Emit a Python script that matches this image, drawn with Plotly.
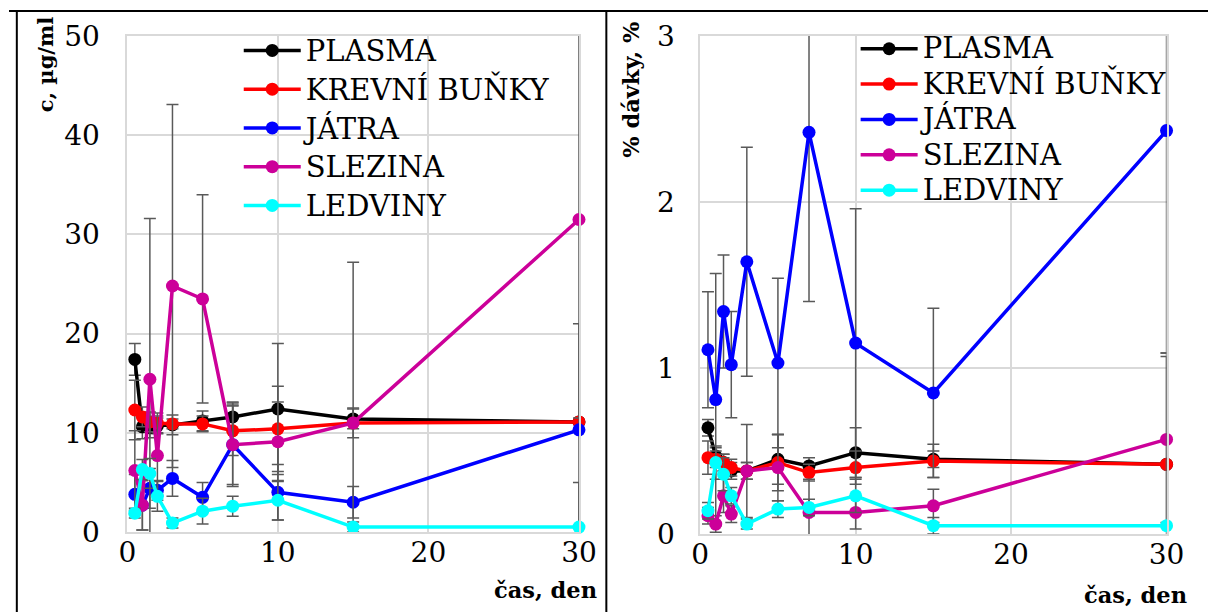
import plotly.graph_objects as go

# sampling times, days
days = [0.5, 1, 1.5, 2, 3, 5, 7, 10, 15, 30]

series_names = ["PLASMA", "KREVNÍ BUŇKY", "JÁTRA", "SLEZINA", "LEDVINY"]
series_colors = ["#000000", "#ff0000", "#0000ff", "#cc0099", "#00ffff"]

# concentration, µg/ml (mean and SD)
conc_plasma = [17.4, 10.6, 10.5, 10.7, 10.8, 11.2, 11.6, 12.4, 11.4, 11.1]
conc_plasma_sd = [1.6, 1.2, 1.0, 0.8, 1.0, 1.0, 1.5, 6.6, 1.0, 0.0]
conc_cells = [12.3, 11.6, 11.1, 11.0, 10.9, 10.9, 10.2, 10.4, 11.0, 11.1]
conc_cells_sd = [3.0, 1.0, 1.0, 1.0, 0.5, 0.8, 2.5, 4.3, 1.5, 0.0]
conc_liver = [3.8, 2.7, 4.4, 4.2, 5.4, 3.5, 8.8, 4.0, 3.0, 10.3]
conc_liver_sd = [2.0, 2.5, 2.0, 1.0, 1.8, 1.5, 4.0, 2.8, 1.6, 10.7]
conc_spleen = [6.2, 2.7, 15.4, 7.7, 24.8, 23.5, 8.8, 9.1, 11.0, 31.5]
conc_spleen_sd = [4.0, 2.5, 16.2, 4.0, 18.3, 10.5, 4.2, 4.0, 16.2, 20.0]
conc_kidney = [1.9, 6.3, 5.9, 3.6, 0.9, 2.1, 2.6, 3.2, 0.5, 0.5]
conc_kidney_sd = [0.5, 1.0, 1.5, 1.5, 0.5, 1.3, 1.0, 2.0, 0.5, 4.5]

# fraction of the dose, % (mean and SD)
dose_plasma = [0.64, 0.47, 0.43, 0.38, 0.38, 0.45, 0.41, 0.49, 0.45, 0.42]
dose_plasma_sd = [0.05, 0.05, 0.05, 0.05, 0.05, 0.15, 0.05, 0.15, 0.05, 0.0]
dose_cells = [0.46, 0.45, 0.43, 0.40, 0.38, 0.43, 0.37, 0.40, 0.44, 0.42]
dose_cells_sd = [0.10, 0.05, 0.05, 0.05, 0.05, 0.17, 0.05, 0.10, 0.10, 0.0]
dose_liver = [1.11, 0.81, 1.34, 1.02, 1.64, 1.03, 2.42, 1.15, 0.85, 2.43]
dose_liver_sd = [0.35, 0.76, 0.34, 0.32, 0.69, 0.51, 1.02, 0.81, 0.51, 1.34]
dose_spleen = [0.11, 0.06, 0.23, 0.12, 0.38, 0.40, 0.13, 0.13, 0.17, 0.57]
dose_spleen_sd = [0.05, 0.05, 0.10, 0.05, 0.28, 0.20, 0.20, 0.10, 0.10, 0.50]
dose_kidney = [0.14, 0.43, 0.36, 0.23, 0.06, 0.15, 0.16, 0.23, 0.05, 0.05]
dose_kidney_sd = [0.05, 0.10, 0.10, 0.05, 0.03, 0.05, 0.05, 0.10, 0.05, 1.04]

conc_means = [conc_plasma, conc_cells, conc_liver, conc_spleen, conc_kidney]
conc_sds = [conc_plasma_sd, conc_cells_sd, conc_liver_sd, conc_spleen_sd, conc_kidney_sd]
dose_means = [dose_plasma, dose_cells, dose_liver, dose_spleen, dose_kidney]
dose_sds = [dose_plasma_sd, dose_cells_sd, dose_liver_sd, dose_spleen_sd, dose_kidney_sd]

SERIF = "DejaVu Serif"
GRID = "#d9d9d9"
ERR = "#595959"

fig = go.Figure()


def add_panel(means, sds, xref, yref, legend_id):
    for name, color, ys, sd in zip(series_names, series_colors, means, sds):
        # error bars: clipped to the plotting area
        fig.add_trace(go.Scatter(
            x=days, y=ys, mode="markers", showlegend=False, hoverinfo="skip",
            xaxis=xref, yaxis=yref, cliponaxis=True,
            marker=dict(color="rgba(0,0,0,0)", size=1),
            error_y=dict(type="data", array=sd, visible=True,
                         color=ERR, thickness=1.5, width=6),
        ))
        # mean values: markers at the axis edge are drawn whole
        fig.add_trace(go.Scatter(
            x=days, y=ys, name=f'<span style="font-size:29px">{name}</span>',
            mode="lines+markers", cliponaxis=False,
            xaxis=xref, yaxis=yref, legend=legend_id,
            line=dict(color=color, width=3.5),
            marker=dict(color=color, size=13),
        ))


add_panel(conc_means, conc_sds, "x", "y", "legend")
add_panel(dose_means, dose_sds, "x2", "y2", "legend2")

axis_common = dict(
    showgrid=True, gridcolor=GRID, gridwidth=1.5,
    showline=True, linecolor=GRID, linewidth=1.5, mirror=True,
    zeroline=False, ticks="",
    tickfont=dict(family=SERIF, size=28, color="#000000"),
)

# dark right-hand border of each plotting area
edge = dict(showline=True, linecolor=ERR, linewidth=1.5, showgrid=False,
            zeroline=False, showticklabels=False, ticks="", side="right")

fig.update_layout(
    width=1208, height=612,
    margin=dict(l=0, r=0, t=36, b=78),
    paper_bgcolor="white", plot_bgcolor="white",
    showlegend=True,
    xaxis=dict(domain=[121 / 1208, 583 / 1208], range=[0, 30], dtick=10,
               anchor="y", ticklabelstandoff=-5, **axis_common),
    yaxis=dict(domain=[0.004, 1.0], range=[0, 50], dtick=10,
               anchor="x", ticklabelstandoff=20, **axis_common),
    xaxis2=dict(domain=[707 / 1208, 1184 / 1208], range=[0, 30], dtick=10,
                anchor="y2", ticklabelstandoff=-5, **axis_common),
    yaxis2=dict(domain=[0.0, 1.0], range=[0, 3], dtick=1,
                anchor="x2", ticklabelstandoff=18, **axis_common),
    yaxis3=dict(overlaying="y", anchor="x", range=[0, 50], **edge),
    yaxis4=dict(overlaying="y2", anchor="x2", range=[0, 3], **edge),
    legend=dict(x=235 / 1208, y=1.02, xanchor="left", yanchor="top",
                bgcolor="rgba(255,255,255,0)", itemwidth=57,
                font=dict(family=SERIF, size=27.5, color="#000000"),
                tracegroupgap=0),
    legend2=dict(x=866 / 1208, y=1.02, xanchor="left", yanchor="top",
                 bgcolor="rgba(255,255,255,0)", itemwidth=57,
                 font=dict(family=SERIF, size=24.9, color="#000000"),
                 tracegroupgap=0),
)

axis_title_font = dict(family=SERIF, size=22.5, color="#000000")
fig.add_annotation(text="<b>c, µg/ml</b>", textangle=-90, xref="paper", yref="paper",
                   x=38 / 1208, y=(534 - 65) / 498, showarrow=False,
                   xanchor="center", yanchor="middle",
                   font=dict(family=SERIF, size=21, color="#000000"))
fig.add_annotation(text="<b>% dávky, %</b>", textangle=-90, xref="paper", yref="paper",
                   x=636 / 1208, y=(534 - 90) / 498, showarrow=False,
                   xanchor="center", yanchor="middle",
                   font=dict(family=SERIF, size=22.5, color="#000000"))
fig.add_annotation(text="<b>čas, den</b>", xref="paper", yref="paper",
                   x=549 / 1208, y=(534 - 590) / 498, showarrow=False,
                   xanchor="center", yanchor="middle", font=axis_title_font)
fig.add_annotation(text="<b>čas, den</b>", xref="paper", yref="paper",
                   x=1136 / 1208, y=(534 - 595) / 498, xshift=16, showarrow=False,
                   xanchor="center", yanchor="middle", font=axis_title_font)

# outer frame around the two panels
frame = dict(type="line", xref="paper", yref="paper", line=dict(color="#000000", width=2))
top_y = (534 - 11) / 498
bottom_y = (534 - 615) / 498
fig.add_shape(x0=0, x1=1.05, y0=top_y, y1=top_y, **frame)
fig.add_shape(x0=8 / 1208, x1=8 / 1208, y0=top_y, y1=bottom_y, **frame)
fig.add_shape(x0=611 / 1208, x1=611 / 1208, y0=top_y, y1=bottom_y, **frame)

fig.write_html("out.html")
